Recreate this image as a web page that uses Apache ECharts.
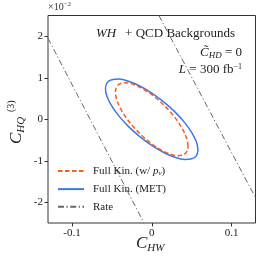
<!DOCTYPE html>
<html><head><meta charset="utf-8">
<script src="https://cdn.jsdelivr.net/npm/echarts@6/dist/echarts.min.js"></script>
<style>html,body{margin:0;padding:0;background:#fff}#c{width:266px;height:266px}</style>
</head><body><div id="c"></div>
<script>
// C_HW values (x) and C_HQ^(3) values in units of 1e-2 (y)
var fullKinPnuX = [0.0455,0.0440,0.0394,0.0322,0.0228,0.0118,0,-0.0118,-0.0228,-0.0322,-0.0394,-0.0440,-0.0455,-0.0440,-0.0394,-0.0322,-0.0228,-0.0118,0,0.0118,0.0228,0.0322,0.0394,0.0440,0.0455];
var fullKinPnuY = [-0.651,-0.476,-0.268,-0.041,0.187,0.403,0.592,0.741,0.839,0.879,0.860,0.782,0.651,0.476,0.268,0.041,-0.187,-0.403,-0.592,-0.741,-0.839,-0.879,-0.860,-0.782,-0.651];
var fullKinMetX = [0.058,0.0560,0.0502,0.0410,0.0290,0.0150,0,-0.0150,-0.0290,-0.0410,-0.0502,-0.0560,-0.058,-0.0560,-0.0502,-0.0410,-0.0290,-0.0150,0,0.0150,0.0290,0.0410,0.0502,0.0560,0.058];
var fullKinMetY = [-0.737,-0.549,-0.322,-0.075,0.177,0.419,0.631,0.801,0.915,0.967,0.954,0.875,0.737,0.549,0.322,0.075,-0.177,-0.419,-0.631,-0.801,-0.915,-0.967,-0.954,-0.875,-0.737];
var rateLeftX = [-0.13, -0.0097];
var rateLeftY = [1.95, -2.5];
var rateRightX = [0.009, 0.13];
var rateRightY = [2.5, -1.89];
var xTicks = [-0.1, 0, 0.1];
var yTicks = [-2, -1, 0, 1, 2];

function zip(a, b) { return a.map(function (v, i) { return [v, b[i]]; }); }

var SERIF = 'Liberation Serif';
var INK = '#222';
var chart = echarts.init(document.getElementById('c'), null, {renderer: 'canvas'});
chart.setOption({
  animation: false,
  backgroundColor: '#fff',
  grid: {left: 48, right: 10.5, top: 15.5, bottom: 43, show: true, borderColor: '#333', borderWidth: 1, backgroundColor: 'transparent'},
  xAxis: {
    type: 'value', min: -0.13, max: 0.13,
    axisLine: {show: false, onZero: false},
    splitLine: {show: false},
    axisTick: {show: true, inside: false, length: 3.5, lineStyle: {color: '#333'}, customValues: xTicks},
    axisLabel: {customValues: xTicks, color: INK, fontFamily: SERIF, fontSize: 11, margin: 5,
      formatter: function (v) { return v === 0 ? '0' : (v < 0 ? '-' : '') + Math.abs(v).toFixed(1); }}
  },
  yAxis: {
    type: 'value', min: -2.5, max: 2.5,
    axisLine: {show: false, onZero: false},
    splitLine: {show: false},
    axisTick: {show: true, inside: false, length: 3.5, lineStyle: {color: '#333'}, customValues: yTicks},
    axisLabel: {customValues: yTicks, color: INK, fontFamily: SERIF, fontSize: 11, margin: 5,
      formatter: function (v) { return (v < 0 ? '-' : '') + Math.abs(v); }}
  },
  legend: {
    left: 57, top: 165, padding: 0, orient: 'vertical', itemWidth: 26, itemHeight: 14, itemGap: 6.5,
    itemStyle: {opacity: 0},
    data: ['pnu', 'met', 'Rate'],
    formatter: function (n) {
      if (n === 'pnu') return '{n|Full Kin. (w/ }{i|p}{s|ν}{n|)}';
      if (n === 'met') return '{n|Full Kin. (MET)}';
      return '{n|Rate}';
    },
    textStyle: {fontFamily: SERIF, fontSize: 11, color: INK, padding: [0, 0, 0, 4],
      rich: {n: {fontFamily: SERIF, fontSize: 11, color: INK, lineHeight: 14},
             i: {fontFamily: SERIF, fontSize: 11, fontStyle: 'italic', color: INK, lineHeight: 14},
             s: {fontFamily: SERIF, fontSize: 7, fontStyle: 'italic', color: INK, lineHeight: 9, padding: [5, 0, 0, 0]}}}
  },
  series: [
    {name: 'pnu', type: 'line', data: zip(fullKinPnuX, fullKinPnuY), showSymbol: false, symbol: 'none', smooth: 0.35,
     lineStyle: {color: '#ff5a1f', width: 1.5, type: [4.5, 2.5]}, itemStyle: {color: '#ff5a1f'}, z: 3},
    {name: 'met', type: 'line', data: zip(fullKinMetX, fullKinMetY), showSymbol: false, symbol: 'none', smooth: 0.35,
     lineStyle: {color: '#3c78eb', width: 1.5}, itemStyle: {color: '#3c78eb'}, z: 2},
    {name: 'Rate', type: 'line', data: zip(rateLeftX, rateLeftY), showSymbol: false, symbol: 'none',
     lineStyle: {color: '#666', width: 1, type: [6, 2.5, 1.2, 2.5]}, itemStyle: {color: '#666'}},
    {name: 'Rate', type: 'line', data: zip(rateRightX, rateRightY), showSymbol: false, symbol: 'none',
     lineStyle: {color: '#666', width: 1, type: [6, 2.5, 1.2, 2.5]}, itemStyle: {color: '#666'}}
  ],
  graphic: [
    {type: 'text', left: 48, top: 1, style: {text: '{a|×10}{b|−2}', rich: {a: {fontFamily: SERIF, fontSize: 10, fill: '#333'}, b: {fontFamily: SERIF, fontSize: 7, fill: '#333', padding: [0, 0, 6, 0]}}}},
    {type: 'text', right: 31, top: 27, style: {text: '{i|WH}{p|+}{n| QCD Backgrounds}', rich: {i: {fontFamily: SERIF, fontSize: 13, fontStyle: 'italic', fill: INK}, p: {fontFamily: SERIF, fontSize: 13, fill: INK, padding: [0, 0, 0, 9]}, n: {fontFamily: SERIF, fontSize: 13, fill: INK}}}},
    {type: 'text', right: 24, top: 46, style: {text: '{i|C̃}{s|HD}{n| = 0}', rich: {i: {fontFamily: SERIF, fontSize: 13, fontStyle: 'italic', fill: INK}, s: {fontFamily: SERIF, fontSize: 9, fontStyle: 'italic', fill: INK, padding: [6, 0, 0, 0]}, n: {fontFamily: SERIF, fontSize: 13, fill: INK}}}},
    {type: 'text', right: 24, top: 63, style: {text: '{i|L}{n| = 300 fb}{s|−1}', rich: {i: {fontFamily: SERIF, fontSize: 13, fontStyle: 'italic', fill: INK}, n: {fontFamily: SERIF, fontSize: 13, fill: INK}, s: {fontFamily: SERIF, fontSize: 8, fill: INK, padding: [0, 0, 6, 0]}}}},
    {type: 'text', left: 136, top: 235, style: {text: '{c|C}{s|HW}', rich: {c: {fontFamily: SERIF, fontSize: 17, fontStyle: 'italic', fill: INK}, s: {fontFamily: SERIF, fontSize: 11, fontStyle: 'italic', fill: INK, padding: [9, 0, 0, 0]}}}},
    {type: 'text', x: 7, y: 144, rotation: Math.PI / 2, style: {text: '{c|C}{s|HQ}', rich: {c: {fontFamily: SERIF, fontSize: 17, fontStyle: 'italic', fill: INK}, s: {fontFamily: SERIF, fontSize: 11, fontStyle: 'italic', fill: INK, padding: [9, 0, 0, 0]}}}},
    {type: 'text', x: 6, y: 112, rotation: Math.PI / 2, style: {text: '(3)', fontFamily: SERIF, fontSize: 10, fill: INK}}
  ]
});
</script></body></html>
